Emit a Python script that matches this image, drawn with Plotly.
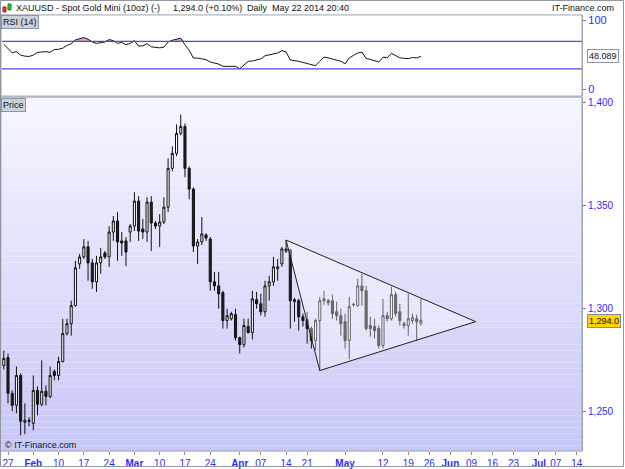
import plotly.graph_objects as go
import pandas as pd

# ---------------- data ----------------
# daily bars (gold trades Sunday evening, no Saturday bar, Good Friday closed)
bar_first, bar_last = "2014-01-26", "2014-05-22"
closed_days = ["2014-04-18"]
future_last = "2014-07-18"

opens = [1272.2, 1276.0, 1258.6, 1252.8, 1267.3, 1244.5, 1245.5, 1244.0, 1260.0, 1253.3,
         1259.6, 1257.1, 1269.3, 1267.3, 1274.1, 1287.7, 1292.5, 1301.3, 1321.6, 1325.0,
         1329.9, 1322.1, 1312.9, 1322.1, 1326.9, 1325.0, 1337.1, 1342.5, 1332.8, 1332.8,
         1337.1, 1340.0, 1352.2, 1338.6, 1337.1, 1351.7, 1341.5, 1340.0, 1342.0, 1349.2,
         1368.1, 1375.4, 1385.1, 1388.5, 1368.1, 1358.0, 1330.3, 1332.3, 1335.7, 1333.7,
         1312.9, 1310.9, 1307.6, 1294.0, 1294.9, 1296.9, 1285.7, 1282.3, 1291.1, 1288.2,
         1304.2, 1302.2, 1298.3, 1310.9, 1312.9, 1319.2, 1321.6, 1327.9, 1328.4, 1303.2,
         1303.7, 1295.9, 1294.5, 1290.1, 1284.3, 1294.0, 1303.7, 1303.7, 1303.7, 1298.3,
         1296.4, 1293.5, 1284.3, 1301.7, 1301.3, 1310.9, 1308.5, 1291.6, 1291.1, 1290.1,
         1281.9, 1296.4, 1294.9, 1306.6, 1298.3, 1292.5, 1291.6, 1294.0, 1294.9, 1292.7]
highs = [1279.4, 1278.0, 1260.0, 1271.7, 1268.3, 1253.7, 1247.0, 1267.3, 1262.0, 1274.6,
         1262.5, 1271.7, 1270.2, 1276.5, 1294.9, 1294.9, 1303.7, 1323.1, 1326.5, 1333.7,
         1332.8, 1324.0, 1325.5, 1329.4, 1327.9, 1340.0, 1344.9, 1346.8, 1337.1, 1334.7,
         1341.0, 1356.5, 1354.6, 1343.5, 1354.1, 1354.6, 1342.5, 1345.8, 1354.1, 1373.0,
         1378.8, 1389.5, 1394.3, 1390.0, 1369.1, 1358.9, 1333.7, 1344.4, 1336.6, 1334.7,
         1317.7, 1317.7, 1308.5, 1299.8, 1298.3, 1299.8, 1286.2, 1294.9, 1294.9, 1308.5,
         1308.0, 1307.1, 1313.4, 1315.8, 1325.0, 1324.0, 1329.9, 1333.2, 1328.9, 1305.1,
         1304.6, 1297.4, 1298.3, 1291.1, 1294.9, 1305.6, 1308.5, 1304.6, 1306.6, 1303.2,
         1299.8, 1297.4, 1305.6, 1302.7, 1314.3, 1316.8, 1310.9, 1295.9, 1294.9, 1291.6,
         1304.6, 1298.3, 1310.5, 1308.0, 1302.2, 1293.5, 1307.1, 1297.4, 1296.9, 1304.6]
lows = [1270.2, 1253.7, 1249.9, 1248.9, 1238.2, 1238.7, 1242.6, 1240.6, 1247.9, 1252.3,
        1252.8, 1256.2, 1264.9, 1264.9, 1273.6, 1286.7, 1286.7, 1300.8, 1319.2, 1324.0,
        1313.4, 1309.5, 1308.0, 1316.8, 1324.0, 1320.2, 1332.8, 1323.1, 1325.5, 1320.6,
        1332.3, 1337.6, 1332.8, 1333.7, 1332.3, 1327.9, 1338.6, 1329.9, 1341.0, 1346.8,
        1366.7, 1374.0, 1384.2, 1363.8, 1353.1, 1327.4, 1321.6, 1330.8, 1332.8, 1308.5,
        1308.5, 1299.8, 1290.1, 1290.1, 1294.0, 1284.3, 1278.0, 1280.9, 1287.7, 1284.8,
        1299.8, 1296.4, 1295.9, 1303.7, 1310.9, 1313.4, 1320.2, 1326.9, 1290.1, 1293.5,
        1289.1, 1291.1, 1282.8, 1280.4, 1279.4, 1269.7, 1301.7, 1301.3, 1294.9, 1294.0,
        1286.7, 1280.4, 1275.1, 1300.8, 1300.8, 1301.3, 1289.1, 1286.2, 1285.3, 1280.4,
        1280.4, 1293.5, 1294.0, 1295.9, 1291.6, 1290.1, 1286.7, 1292.5, 1284.3, 1291.6]
closes = [1275.6, 1258.6, 1252.8, 1267.3, 1245.0, 1245.5, 1245.0, 1260.0, 1253.3, 1259.6,
          1257.1, 1267.3, 1267.3, 1274.1, 1287.7, 1292.5, 1301.3, 1319.7, 1325.0, 1329.9,
          1322.1, 1312.9, 1322.1, 1325.0, 1325.0, 1337.1, 1342.5, 1332.3, 1331.8, 1327.4,
          1340.0, 1352.2, 1337.6, 1337.1, 1351.7, 1341.5, 1340.0, 1342.0, 1349.2, 1368.1,
          1375.4, 1385.1, 1388.5, 1368.1, 1358.0, 1330.3, 1332.3, 1336.2, 1334.2, 1312.9,
          1310.9, 1307.1, 1294.0, 1296.4, 1297.4, 1285.7, 1282.3, 1291.6, 1288.2, 1304.6,
          1302.2, 1298.3, 1310.9, 1312.9, 1320.2, 1320.2, 1328.9, 1328.9, 1303.7, 1304.2,
          1295.9, 1294.0, 1290.1, 1284.3, 1294.0, 1303.7, 1304.6, 1302.7, 1297.4, 1296.4,
          1292.5, 1284.3, 1300.8, 1301.9, 1310.9, 1308.5, 1290.1, 1290.1, 1289.1, 1281.9,
          1296.4, 1294.9, 1306.6, 1297.4, 1294.0, 1291.6, 1294.9, 1295.4, 1293.5, 1294.0]
rsi = [65.5, 59.0, 53.5, 55.0, 50.0, 48.5, 48.0, 50.0, 54.0, 54.5,
       55.0, 54.0, 58.0, 58.5, 60.0, 64.0, 66.5, 72.0, 73.5, 75.5,
       73.0, 69.0, 67.0, 68.5, 69.0, 72.5, 71.0, 67.0, 68.3, 65.0,
       67.0, 71.0, 63.0, 63.5, 66.5, 62.0, 61.5, 60.5, 61.5, 69.0,
       71.5, 73.0, 74.5, 64.9, 57.0, 45.7, 45.7, 44.5, 43.5, 40.0,
       38.0, 37.0, 33.7, 33.7, 33.7, 33.7, 30.3, 35.5, 41.0, 41.5,
       42.5, 44.5, 49.0, 50.0, 51.0, 53.0, 56.5, 54.5, 43.0, 42.3,
       41.0, 39.4, 37.5, 36.0, 34.6, 41.0, 47.0, 46.0, 44.3, 43.5,
       41.0, 37.5, 46.0, 49.5, 53.0, 54.4, 45.0, 43.8, 42.0, 40.0,
       47.0, 46.0, 52.5, 49.0, 46.0, 45.4, 44.8, 46.5, 46.0, 48.089]
rsi_levels = [70, 30]

# triangle drawn on the chart (date, price)
tri_dates = ["2014-04-14", "2014-04-24", "2014-06-10", "2014-04-14"]
tri_prices = [1333.2, 1269.7, 1293.5, 1333.2]

tick_dates = ["2014-01-27", "2014-02-03", "2014-02-10", "2014-02-17", "2014-02-24",
              "2014-03-03", "2014-03-10", "2014-03-17", "2014-03-24", "2014-04-01",
              "2014-04-07", "2014-04-14", "2014-04-21", "2014-05-01", "2014-05-12",
              "2014-05-19", "2014-05-26", "2014-06-02", "2014-06-09", "2014-06-16",
              "2014-06-23", "2014-07-01", "2014-07-07", "2014-07-14"]
tick_labels = ["27", "Feb", "10", "17", "24", "Mar", "10", "17", "24", "Apr", "07", "14",
               "21", "May", "12", "19", "26", "Jun", "09", "16", "23", "Jul", "07", "14"]
month_labels = ["Feb", "Mar", "Apr", "May", "Jun", "Jul"]

price_ticks = [1250, 1300, 1350, 1400]
last_price = 1294.0
last_change_pct = 0.10
last_rsi = 48.089

# ---------------- trading-day axis ----------------
all_days = pd.date_range(bar_first, bar_last, freq="D")
bar_days = [d for d in all_days if d.weekday() != 5 and d.strftime("%Y-%m-%d") not in closed_days]
fut_days = [d for d in pd.date_range(pd.Timestamp(bar_last) + pd.Timedelta(days=1), future_last, freq="D")
            if d.weekday() < 5]
axis_days = [d.strftime("%Y-%m-%d") for d in bar_days + fut_days]
pos = {d: i for i, d in enumerate(axis_days)}
bar_x = [pos[d.strftime("%Y-%m-%d")] for d in bar_days]

W, H = 625, 469
def px(x): return x / W
def py(y): return 1 - y / H

# domains (pixel geometry of the reference)
x_left, x_right = 2, 583
price_top, price_bot = 97.5, 453
rsi_top, rsi_bot = 15, 96.5
bar_w = 4.22          # px per trading day
x0_px = 3.8           # px of first bar
x_range = [(x_left - x0_px) / bar_w, (x_right - x0_px) / bar_w]

BLUE = "#2b2bff"
FONT = "Liberation Sans"

fig = go.Figure()

# price gradient background
nb = 60
for k in range(nb):
    t = k / (nb - 1)
    r = int(246 - (246 - 200) * t)
    g = int(246 - (246 - 200) * t)
    b = int(255 - (255 - 248) * t)
    fig.add_shape(type="rect", xref="paper", yref="paper",
                  x0=px(x_left), x1=px(x_right),
                  y0=py(price_top + (price_bot - price_top) * (k + 1) / nb),
                  y1=py(price_top + (price_bot - price_top) * k / nb),
                  fillcolor=f"rgb({r},{g},{b})", line=dict(width=0), layer="below")

# triangle
fig.add_trace(go.Scatter(x=[pos[d] for d in tri_dates], y=tri_prices, mode="lines",
                         line=dict(color="#202020", width=1), fill="toself",
                         fillcolor="rgba(255,255,255,0.35)", hoverinfo="skip",
                         xaxis="x", yaxis="y", showlegend=False))

fig.add_trace(go.Candlestick(
    x=bar_x, open=opens, high=highs, low=lows, close=closes,
    increasing=dict(line=dict(color="#101010", width=1), fillcolor="#ffffff"),
    decreasing=dict(line=dict(color="#101010", width=1), fillcolor="#202020"),
    whiskerwidth=0, xaxis="x", yaxis="y", showlegend=False, hoverinfo="skip"))

# RSI
rsi_hi = [max(v, rsi_levels[0]) for v in rsi]
fig.add_trace(go.Scatter(x=bar_x, y=[rsi_levels[0]] * len(bar_x), mode="lines",
                         line=dict(width=0), xaxis="x2", yaxis="y2", showlegend=False,
                         hoverinfo="skip"))
fig.add_trace(go.Scatter(x=bar_x, y=rsi_hi, mode="lines", line=dict(width=0),
                         fill="tonexty", fillcolor="rgba(225,150,150,0.8)",
                         xaxis="x2", yaxis="y2", showlegend=False, hoverinfo="skip"))
for lv in rsi_levels:
    fig.add_shape(type="line", xref="x2 domain", yref="y2", x0=0, x1=1, y0=lv, y1=lv,
                  line=dict(color="#4a4ae8", width=1.2))
fig.add_trace(go.Scatter(x=bar_x, y=rsi, mode="lines", line=dict(color="#151515", width=1),
                         xaxis="x2", yaxis="y2", showlegend=False, hoverinfo="skip"))

# panel frames
for (t, b) in [(rsi_top, rsi_bot), (price_top, price_bot)]:
    fig.add_shape(type="rect", xref="paper", yref="paper", x0=px(x_left - 1), x1=px(x_right),
                  y0=py(b), y1=py(t), line=dict(color="#9aa0aa", width=1))
fig.add_shape(type="rect", xref="paper", yref="paper", x0=0.0008, x1=0.9992, y0=0.001, y1=0.999,
              line=dict(color="#8c949c", width=1))

ticktext = [f"<b>{t}</b>" if t in month_labels else t for t in tick_labels]

fig.update_layout(
    width=W, height=H, autosize=False,
    margin=dict(l=0, r=0, t=0, b=0),
    paper_bgcolor="white", plot_bgcolor="rgba(0,0,0,0)",
    font=dict(family=FONT, size=9, color="#111"),
    showlegend=False,
    xaxis=dict(domain=[px(x_left), px(x_right)], range=x_range, anchor="y",
               tickmode="array", tickvals=[pos[d] for d in tick_dates], ticktext=ticktext,
               ticks="outside", ticklen=3, tickcolor="#888", showgrid=False, zeroline=False,
               tickfont=dict(family=FONT, size=10, color=BLUE),
               rangeslider=dict(visible=False), showline=False, fixedrange=True),
    xaxis2=dict(domain=[px(x_left), px(x_right)], range=x_range, anchor="y2", matches="x",
                showticklabels=False, showgrid=False, zeroline=False, ticks=""),
    yaxis=dict(domain=[py(price_bot), py(price_top)], range=[1230.5, 1402.8], side="right",
               tickvals=price_ticks, ticktext=[f"{v:,}" for v in price_ticks],
               ticks="outside", ticklen=3, tickcolor="#777", showgrid=False, zeroline=False,
               tickfont=dict(family=FONT, size=10, color=BLUE), showline=True,
               linecolor="#9aa0aa"),
    yaxis2=dict(domain=[py(rsi_bot), py(rsi_top)], range=[-9.4, 108.2], side="right",
                tickvals=[0, 100], ticktext=["0", "100"], ticks="outside", ticklen=3,
                tickcolor="#777", showgrid=False, zeroline=False,
                tickfont=dict(family=FONT, size=11, color=BLUE), showline=True,
                linecolor="#9aa0aa"),
)

ann = []
# header
ann.append(dict(x=px(14), y=py(8), text="XAUUSD - Spot Gold Mini (10oz) (-)", xanchor="left"))
ann.append(dict(x=px(171), y=py(8), text=f"{last_price:,.1f} (+{last_change_pct:.2f}%)", xanchor="left"))
ann.append(dict(x=px(245), y=py(8), text="Daily", xanchor="left"))
ann.append(dict(x=px(270), y=py(8), text="May 22 2014 20:40", xanchor="left"))
ann.append(dict(x=px(617), y=py(8), text="IT-Finance.com", xanchor="right"))
for a in ann:
    a.update(xref="paper", yref="paper", showarrow=False, yanchor="middle",
             font=dict(family=FONT, size=9, color="#111"))
# panel labels
ann.append(dict(xref="paper", yref="paper", x=px(1), y=py(15.5), text="RSI (14)",
                xanchor="left", yanchor="top", showarrow=False, bgcolor="#ccd3dc",
                bordercolor="#8a96a4", borderwidth=1, borderpad=1,
                font=dict(family=FONT, size=9, color="#111")))
ann.append(dict(xref="paper", yref="paper", x=px(1), y=py(98), text="Price",
                xanchor="left", yanchor="top", showarrow=False, bgcolor="#ccd3dc",
                bordercolor="#8a96a4", borderwidth=1, borderpad=1,
                font=dict(family=FONT, size=9, color="#111")))
ann.append(dict(xref="paper", yref="paper", x=px(3), y=py(447), text="© IT-Finance.com",
                xanchor="left", yanchor="middle", showarrow=False,
                font=dict(family=FONT, size=9, color="#111")))
# last value boxes
ann.append(dict(xref="paper", yref="y2", x=px(588), y=last_rsi, text=f"{last_rsi:.3f}",
                xanchor="left", yanchor="middle", showarrow=False, bgcolor="white",
                bordercolor="#8a96a4", borderwidth=1, borderpad=1,
                font=dict(family=FONT, size=9, color="#111")))
ann.append(dict(xref="paper", yref="y", x=px(588), y=last_price, text=f"{last_price:,.1f}",
                xanchor="left", yanchor="middle", showarrow=False, bgcolor="#ffd400",
                bordercolor="#8a8a8a", borderwidth=1, borderpad=1,
                font=dict(family=FONT, size=9, color="#111")))
fig.update_layout(annotations=ann)

# small candle icon in header
fig.add_shape(type="rect", xref="paper", yref="paper", x0=px(3), x1=px(6), y0=py(12), y1=py(7),
              fillcolor="#e04040", line=dict(color="#a02020", width=1))
fig.add_shape(type="rect", xref="paper", yref="paper", x0=px(8), x1=px(11), y0=py(10), y1=py(4),
              fillcolor="#30c030", line=dict(color="#208020", width=1))

fig.write_html("out.html", config=dict(displayModeBar=False))
